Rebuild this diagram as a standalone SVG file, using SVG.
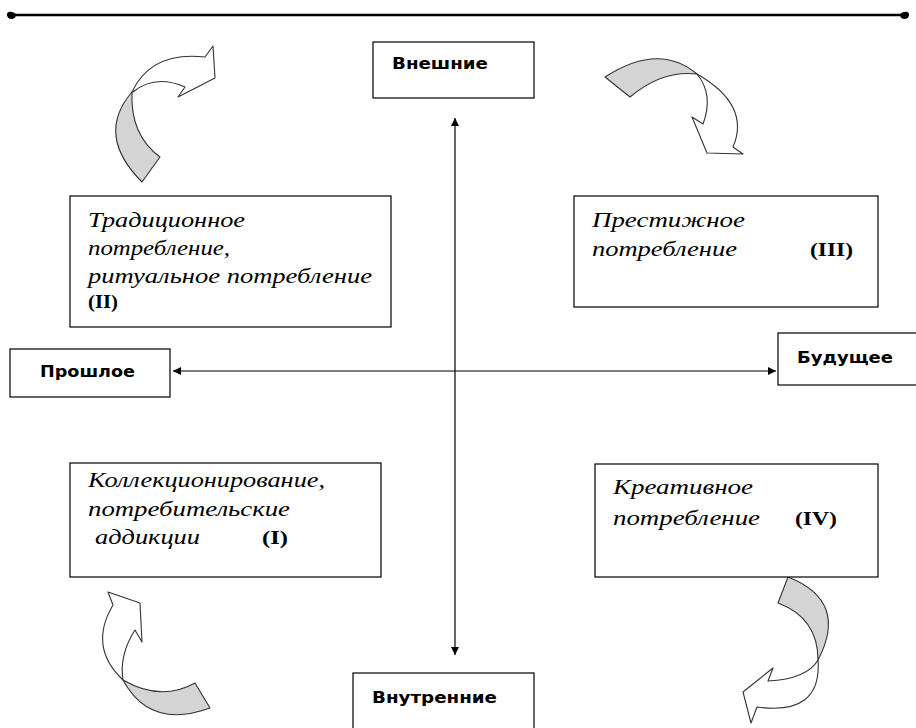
<svg xmlns="http://www.w3.org/2000/svg" width="916" height="728" viewBox="0 0 916 728">
<style>
.box{fill:#fff;stroke:#000;stroke-width:1.2}
.lbl{font-family:"DejaVu Sans",sans-serif;font-weight:bold;font-size:15px;fill:#000}
.it{font-family:"Liberation Serif",serif;font-style:italic;font-size:20px;fill:#000}
.num{font-family:"Liberation Serif",serif;font-weight:bold;font-size:19px;fill:#000}
.axis{stroke:#000;stroke-width:1.2;fill:none}
.ga{fill:#d4d4d4;stroke:#333;stroke-width:1.1;stroke-linejoin:round}
.wa{fill:#fff;stroke:#333;stroke-width:1.1;stroke-linejoin:round}
</style>
<defs>
<marker id="ah" viewBox="0 0 10 10" refX="10" refY="5" markerWidth="8" markerHeight="8" markerUnits="userSpaceOnUse" orient="auto-start-reverse">
<path d="M0,0 L10,5 L0,10 Z" fill="#000"/>
</marker>
</defs>
<rect width="916" height="728" fill="#fff"/>

<g id="top-rule">
<line x1="12" y1="15" x2="904" y2="15" stroke="#000" stroke-width="2.5"/>
<path d="M16,15 C12,11 6,12 8,16 C9,19 14,19 15,16" fill="#000" stroke="#000" stroke-width="1.5"/>
<path d="M900,15 C904,11 910,12 908,16 C907,19 902,19 901,16" fill="#000" stroke="#000" stroke-width="1.5"/>
</g>

<g id="connectors">
<line class="axis" x1="455" y1="118" x2="455" y2="655" marker-start="url(#ah)" marker-end="url(#ah)"/>
<line class="axis" x1="173" y1="371" x2="776" y2="371" marker-start="url(#ah)" marker-end="url(#ah)"/>
</g>

<g id="curved-arrow-top-left">
<path class="wa" d="M132,92 Q151,51 205,57 L213,46 L215,78 L178,97 L185,87 Q155,74 133,92 Z"/>
<path class="ga" d="M142,182 Q95,135 132,92 Q130,135 160,157 Z"/>
</g>
<g id="curved-arrow-top-right">
<path class="wa" d="M697,74 Q751,105 733,147 L743,154 L707,153 L692,117 L703,124 Q714,95 697,74 Z"/>
<path class="ga" d="M605,77 Q659,42 697,74 Q662,70 630,97 Z"/>
</g>
<g id="curved-arrow-bottom-left">
<path class="wa" d="M123,680 Q88,647 113,605 L108,592 L140,603 L142,642 L135,630 Q119,655 123,680 Z"/>
<path class="ga" d="M210,708 Q150,730 123,680 Q161,702 195,683 Z"/>
</g>
<g id="curved-arrow-bottom-right">
<path class="wa" d="M818,660 Q807,679 768,681 L773,668 L743,692 L751,723 L757,707 Q822,716 818,660 Z"/>
<path class="ga" d="M788,577 Q849,601 818,660 Q818,618 778,603 Z"/>
</g>

<g id="node-external">
<rect class="box" x="373" y="42" width="161" height="56"/>
<text class="lbl" x="392" y="69" textLength="96" lengthAdjust="spacingAndGlyphs">Внешние</text>
</g>
<g id="node-internal">
<rect class="box" x="353" y="673" width="181" height="60"/>
<text class="lbl" x="372" y="703" textLength="125" lengthAdjust="spacingAndGlyphs">Внутренние</text>
</g>
<g id="node-past">
<rect class="box" x="10" y="349" width="160" height="48"/>
<text class="lbl" x="40" y="377" textLength="95" lengthAdjust="spacingAndGlyphs">Прошлое</text>
</g>
<g id="node-future">
<rect class="box" x="778" y="333" width="145" height="52"/>
<text class="lbl" x="797" y="363" textLength="96" lengthAdjust="spacingAndGlyphs">Будущее</text>
</g>

<g id="node-II">
<rect class="box" x="70" y="196" width="321" height="131"/>
<text class="it" x="88" y="227" textLength="157" lengthAdjust="spacingAndGlyphs">Традиционное</text>
<text class="it" x="88" y="255" textLength="142" lengthAdjust="spacingAndGlyphs">потребление,</text>
<text class="it" x="88" y="283" textLength="284" lengthAdjust="spacingAndGlyphs">ритуальное потребление</text>
<text class="num" x="88" y="308" textLength="30" lengthAdjust="spacingAndGlyphs">(II)</text>
</g>
<g id="node-III">
<rect class="box" x="574" y="196" width="304" height="111"/>
<text class="it" x="592" y="227" textLength="153" lengthAdjust="spacingAndGlyphs">Престижное</text>
<text class="it" x="592" y="256" textLength="145" lengthAdjust="spacingAndGlyphs">потребление</text>
<text class="num" x="810" y="256" textLength="43" lengthAdjust="spacingAndGlyphs">(III)</text>
</g>
<g id="node-I">
<rect class="box" x="70" y="463" width="311" height="114"/>
<text class="it" x="88" y="487" textLength="237" lengthAdjust="spacingAndGlyphs">Коллекционирование,</text>
<text class="it" x="88" y="516" textLength="202" lengthAdjust="spacingAndGlyphs">потребительские</text>
<text class="it" x="95" y="544" textLength="105" lengthAdjust="spacingAndGlyphs">аддикции</text>
<text class="num" x="262" y="544" textLength="26" lengthAdjust="spacingAndGlyphs">(I)</text>
</g>
<g id="node-IV">
<rect class="box" x="595" y="464" width="283" height="113"/>
<text class="it" x="613" y="494" textLength="140" lengthAdjust="spacingAndGlyphs">Креативное</text>
<text class="it" x="613" y="525" textLength="147" lengthAdjust="spacingAndGlyphs">потребление</text>
<text class="num" x="795" y="525" textLength="42" lengthAdjust="spacingAndGlyphs">(IV)</text>
</g>
</svg>
